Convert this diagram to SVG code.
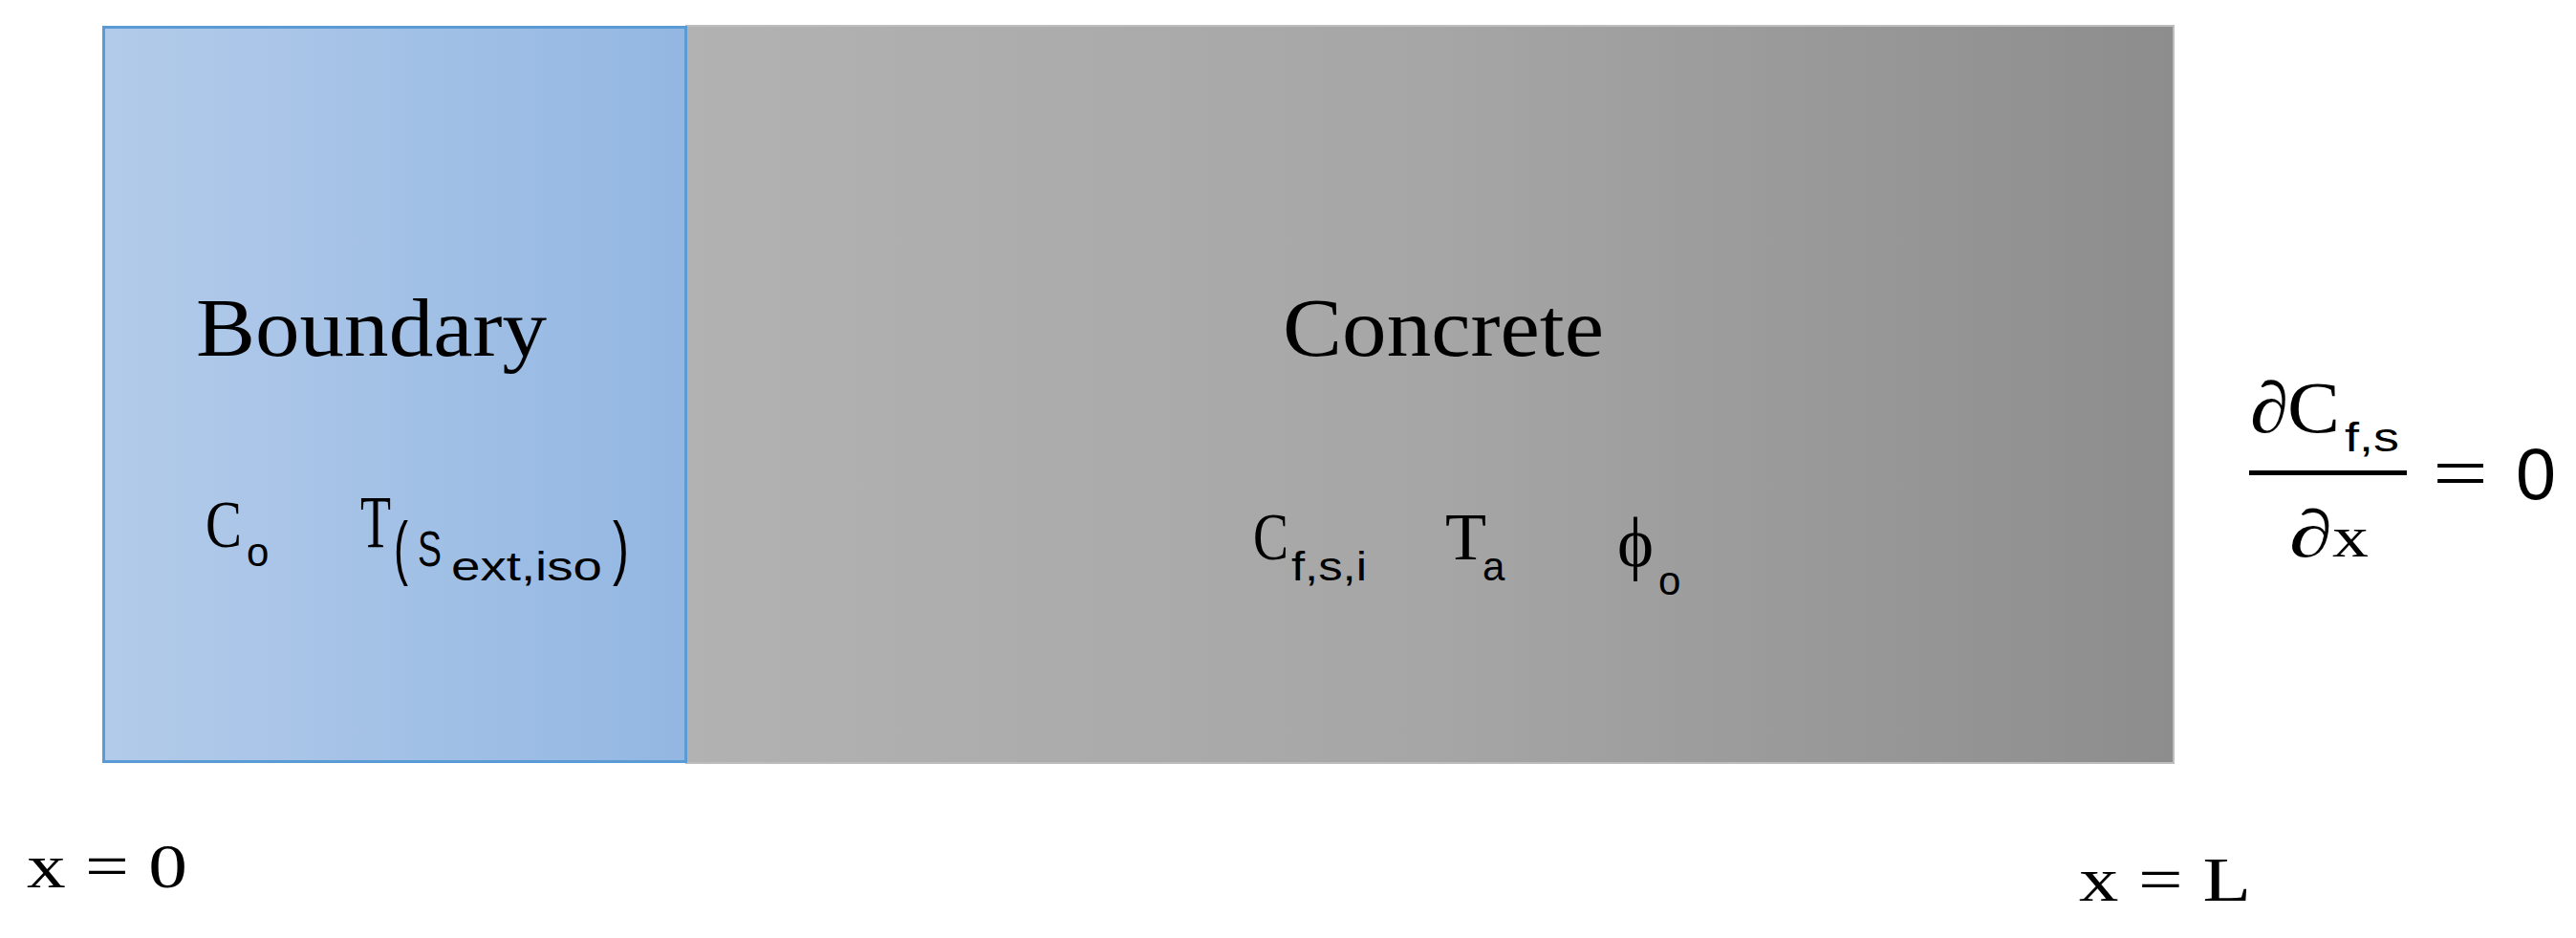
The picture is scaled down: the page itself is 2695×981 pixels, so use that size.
<svg xmlns="http://www.w3.org/2000/svg" width="2695" height="981" viewBox="0 0 2695 981">
<defs>
<linearGradient id="gBlue" x1="0" y1="0" x2="1" y2="0">
<stop offset="0" stop-color="#b3cbea"/>
<stop offset="1" stop-color="#93b7e2"/>
</linearGradient>
<linearGradient id="gGray" x1="0" y1="0" x2="1" y2="0">
<stop offset="0" stop-color="#b2b2b2"/>
<stop offset="0.5" stop-color="#a6a6a6"/>
<stop offset="1" stop-color="#8d8d8d"/>
</linearGradient>
</defs>
<style>
.serif{font-family:"Liberation Serif","DejaVu Serif",serif;fill:#000}
.sans{font-family:"Liberation Sans","DejaVu Sans",sans-serif;fill:#000}
.title{font-size:86px}
.var{font-size:70px}
.sub{font-size:42px}
</style>
<rect width="2695" height="981" fill="#ffffff"/>
<g id="concrete">
<rect x="718" y="27" width="1556" height="771" fill="url(#gGray)" stroke="#bdbdbd" stroke-width="2"/>
<text class="serif title" x="1342" y="372" textLength="336" lengthAdjust="spacingAndGlyphs">Concrete</text>
<text class="serif var" x="1311" y="585" textLength="37" lengthAdjust="spacingAndGlyphs">C</text>
<text class="sans sub" x="1351" y="607" textLength="79" lengthAdjust="spacingAndGlyphs">f,s,i</text>
<text class="serif var" x="1512" y="585" textLength="43" lengthAdjust="spacingAndGlyphs">T</text>
<text class="sans sub" x="1551" y="607">a</text>
<text class="serif" x="1692" y="592" font-size="74" textLength="38" lengthAdjust="spacingAndGlyphs">ϕ</text>
<text class="sans sub" x="1735" y="622">o</text>
</g>
<g id="boundary">
<rect x="108.5" y="28.5" width="609" height="768" fill="url(#gBlue)" stroke="#5b9bd5" stroke-width="3"/>
<text class="serif title" x="205" y="372" textLength="367" lengthAdjust="spacingAndGlyphs">Boundary</text>
<text class="serif var" x="215" y="572" textLength="38" lengthAdjust="spacingAndGlyphs">C</text>
<text class="sans sub" x="258" y="592">o</text>
<text class="serif" font-size="78"><tspan x="377" y="572" textLength="32" lengthAdjust="spacingAndGlyphs">T</tspan><tspan class="sans" x="412" y="598" font-size="74" fill="#222" textLength="15" lengthAdjust="spacingAndGlyphs">(</tspan><tspan class="sans" x="437" y="592" font-size="51" textLength="25" lengthAdjust="spacingAndGlyphs">S</tspan><tspan class="sans" x="472" y="607" font-size="42" textLength="158" lengthAdjust="spacingAndGlyphs">ext,iso</tspan><tspan class="sans" x="641" y="598" font-size="74" fill="#222" textLength="17" lengthAdjust="spacingAndGlyphs">)</tspan></text>
</g>
<g id="condition">
<text class="serif" x="2354" y="452" font-size="76" textLength="40" lengthAdjust="spacingAndGlyphs">∂</text>
<text class="serif" x="2393" y="452" font-size="76" textLength="55" lengthAdjust="spacingAndGlyphs">C</text>
<text class="sans sub" x="2453" y="472" textLength="57" lengthAdjust="spacingAndGlyphs">f,s</text>
<rect x="2353" y="492" width="165" height="5" fill="#000"/>
<text class="serif" x="2395" y="582" font-size="70" textLength="45" lengthAdjust="spacingAndGlyphs">∂</text>
<text class="serif" x="2440" y="582" font-size="62" textLength="38" lengthAdjust="spacingAndGlyphs">x</text>
<text class="serif" x="2545" y="522" font-size="80" textLength="58" lengthAdjust="spacingAndGlyphs">=</text>
<text class="sans" x="2632" y="522" font-size="76" textLength="42" lengthAdjust="spacingAndGlyphs">0</text>
</g>
<g id="labels">
<text class="serif" x="28" y="928" font-size="66" textLength="168" lengthAdjust="spacingAndGlyphs">x = 0</text>
<text class="serif" x="2175" y="942" font-size="66" textLength="180" lengthAdjust="spacingAndGlyphs">x = L</text>
</g>
<g id="connectors"/>
</svg>
